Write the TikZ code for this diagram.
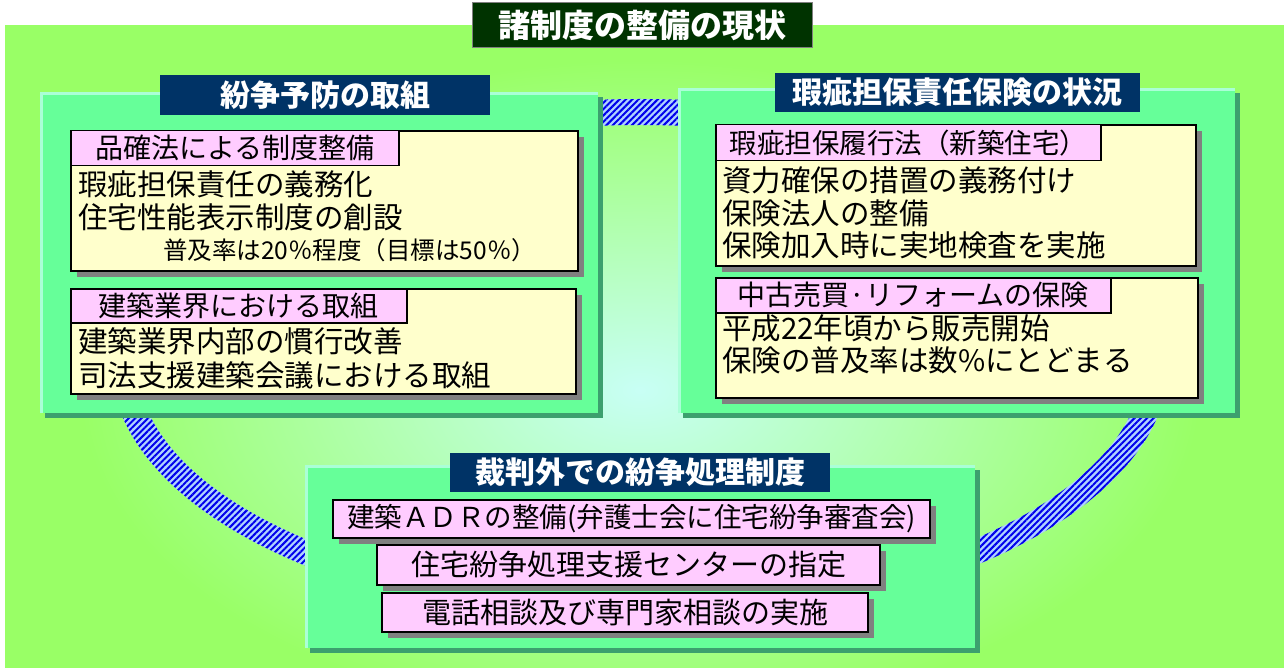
\documentclass[tikz,border=0pt]{standalone}
\usepackage{fontspec}
\setmainfont{Noto Sans CJK JP}
\usetikzlibrary{shadows,patterns.meta}
\definecolor{bgout}{RGB}{153,255,102}
\definecolor{bgin}{RGB}{200,255,245}
\definecolor{panel}{RGB}{102,255,153}
\definecolor{panellight}{RGB}{170,255,215}
\definecolor{paneldark}{RGB}{60,160,110}
\definecolor{navy}{RGB}{0,51,102}
\definecolor{titlegreen}{RGB}{0,51,0}
\definecolor{cream}{RGB}{255,255,204}
\definecolor{pinkfill}{RGB}{255,204,255}
\definecolor{hatchbg}{RGB}{175,210,255}
\definecolor{hatchfg}{RGB}{0,0,235}
\definecolor{shadowgray}{RGB}{128,128,128}
\tikzset{
  panelbox/.style={fill=panel, draw=none, inner sep=0pt, anchor=north west,
    drop shadow={shadow xshift=5pt, shadow yshift=-5pt, fill=paneldark, opacity=1}},
  heading/.style={fill=navy, text=white, inner sep=0pt,
    font=\bfseries\fontsize{30}{32}\selectfont},
  creambox/.style={fill=cream, draw=black, line width=2pt, inner sep=0pt, anchor=north west,
    drop shadow={shadow xshift=6pt, shadow yshift=-6pt, fill=shadowgray, opacity=1}},
  pinklabel/.style={fill=pinkfill, draw=black, line width=1.5pt, inner sep=0pt, anchor=north west,
    font=\fontsize{28}{30}\selectfont},
  pinkbox/.style={fill=pinkfill, draw=black, line width=2pt, inner sep=0pt,
    font=\fontsize{29}{31}\selectfont,
    drop shadow={shadow xshift=6pt, shadow yshift=-6pt, fill=shadowgray, opacity=1}},
  bodytext/.style={anchor=west, inner sep=0pt, font=\fontsize{29.5}{31}\selectfont},
  smalltext/.style={anchor=west, inner sep=0pt, font=\fontsize{24.5}{27}\selectfont},
  edge light/.style={draw=panellight, line width=3pt}
}
\begin{document}
\begin{tikzpicture}[x=1pt,y=-1pt]
\useasboundingbox (0,0) rectangle (1284,668);
% background
\fill[bgout] (5,25) rectangle (1284,668);
\begin{scope}
  \clip (5,25) rectangle (1284,668);
  \shade[inner color=bgin, outer color=bgout] (640,390) ellipse [x radius=560pt, y radius=330pt];
\end{scope}
% title
\node[fill=titlegreen, draw=gray, line width=1pt, text=white, inner sep=0pt,
  minimum width=340pt, minimum height=45pt, font=\bfseries\fontsize{32}{34}\selectfont]
  (title) at (642,25.5) {諸制度の整備の現状};
% hatched ring
\fill[hatchbg, even odd rule] (640,362) ellipse [x radius=529pt, y radius=263pt]
  (640,362) ellipse [x radius=503pt, y radius=237pt];
\fill[pattern={Lines[angle=45,distance=4.5pt,line width=2pt]}, pattern color=hatchfg, even odd rule]
  (640,362) ellipse [x radius=529pt, y radius=263pt]
  (640,362) ellipse [x radius=503pt, y radius=237pt];

% ---------------- left panel
\node[panelbox, minimum width=558pt, minimum height=321pt] (lp) at (40,92) {};
\draw[edge light] ([xshift=1.5pt]lp.south west) -- ([xshift=1.5pt,yshift=-1.5pt]lp.north west) -- ([yshift=-1.5pt]lp.north east);
\node[heading, minimum width=330pt, minimum height=40pt] (lh) at (325,95) {紛争予防の取組};
\node[creambox, minimum width=507pt, minimum height=140pt] (l1) at (70,130) {};
\node[pinklabel, minimum width=328pt, minimum height=35pt] (l1lab) at (70,130) {品確法による制度整備};
\node[bodytext] (l1a) at (78,184) {瑕疵担保責任の義務化};
\node[bodytext] (l1b) at (78,217) {住宅性能表示制度の創設};
\node[smalltext] (l1c) at (163,250) {普及率は20％程度（目標は50％）};
\node[creambox, minimum width=505pt, minimum height=105pt] (l2) at (70,288) {};
\node[pinklabel, minimum width=336pt, minimum height=34pt] (l2lab) at (70,288) {建築業界における取組};
\node[bodytext] (l2a) at (78,341) {建築業界内部の慣行改善};
\node[bodytext] (l2b) at (78,375) {司法支援建築会議における取組};

% ---------------- right panel
\node[panelbox, minimum width=557pt, minimum height=325pt] (rp) at (678,88) {};
\draw[edge light] ([xshift=1.5pt]rp.south west) -- ([xshift=1.5pt,yshift=-1.5pt]rp.north west) -- ([yshift=-1.5pt]rp.north east);
\node[heading, minimum width=365pt, minimum height=39pt] (rh) at (957.5,92.5) {瑕疵担保責任保険の状況};
\node[creambox, minimum width=480pt, minimum height=141pt] (r1) at (715,124) {};
\node[pinklabel, minimum width=385pt, minimum height=36pt, font=\fontsize{27.5}{30}\selectfont] (r1lab) at (715,124) {瑕疵担保履行法（新築住宅）};
\node[bodytext] (r1a) at (722,180) {資力確保の措置の義務付け};
\node[bodytext] (r1b) at (722,213) {保険法人の整備};
\node[bodytext] (r1c) at (722,245) {保険加入時に実地検査を実施};
\node[creambox, minimum width=482pt, minimum height=120pt] (r2) at (715,277) {};
\node[pinklabel, minimum width=395pt, minimum height=35pt] (r2lab) at (715,277) {中古売買·リフォームの保険};
\node[bodytext] (r2a) at (722,328) {平成22年頃から販売開始};
\node[bodytext] (r2b) at (722,360) {保険の普及率は数\%にとどまる};

% ---------------- bottom panel
\node[panelbox, minimum width=670pt, minimum height=183pt] (bp) at (305,465) {};
\draw[edge light] ([xshift=1.5pt]bp.south west) -- ([xshift=1.5pt,yshift=-1.5pt]bp.north west) -- ([yshift=-1.5pt]bp.north east);
\node[heading, minimum width=380pt, minimum height=39pt] (bh) at (640,472.5) {裁判外での紛争処理制度};
\node[pinkbox, minimum width=597pt, minimum height=38pt, font=\fontsize{27.5}{30}\selectfont] (b1) at (631.5,519) {建築ＡＤＲの整備(弁護士会に住宅紛争審査会)};
\node[pinkbox, minimum width=503pt, minimum height=40pt] (b2) at (628.5,565) {住宅紛争処理支援センターの指定};
\node[pinkbox, minimum width=486pt, minimum height=39pt] (b3) at (625,612.5) {電話相談及び専門家相談の実施};
\end{tikzpicture}
\end{document}
